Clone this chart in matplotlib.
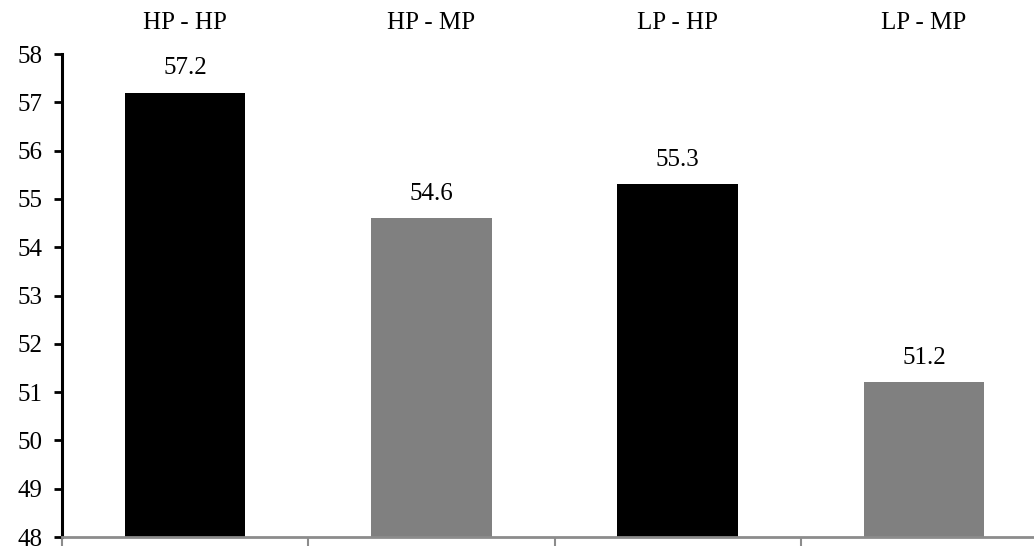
import matplotlib.pyplot as plt
import numpy as np

plt.rcParams['font.family'] = ['Liberation Serif', 'DejaVu Serif']

categories = ['HP - HP', 'HP - MP', 'LP - HP', 'LP - MP']
values = [57.2, 54.6, 55.3, 51.2]
colors = ['#000000', '#808080', '#000000', '#808080']
y_ticks = list(range(48, 59))

fig = plt.figure(figsize=(10.34, 5.46), dpi=100)
ax = fig.add_axes([62 / 1034, 1 - 537 / 546, (1047 - 62) / 1034, (537 - 54) / 546])

x = np.arange(len(categories))
bars = ax.bar(x, values, width=0.49, color=colors, zorder=2)

for xi, v in zip(x, values):
    ax.text(xi, v + 0.28, f'{v:.1f}', ha='center', va='bottom', fontsize=18)

# category names along the top
for xi, c in zip(x, categories):
    ax.text(xi, 1.065, c, transform=ax.get_xaxis_transform(),
            ha='center', va='center', fontsize=18)

ax.set_xlim(-0.5, 3.5)
ax.set_ylim(48, 58)
ax.set_yticks(y_ticks)
ax.tick_params(axis='y', labelsize=18, width=2, length=6, color='black', pad=8)

ax.set_xticks(np.arange(-0.5, 4.0, 1.0))
ax.set_xticklabels([])
ax.tick_params(axis='x', width=1.5, length=7, color='#8c8c8c')

ax.spines['top'].set_visible(False)
ax.spines['right'].set_visible(False)
ax.spines['left'].set_linewidth(2.2)
ax.spines['left'].set_color('black')
ax.spines['bottom'].set_linewidth(2)
ax.spines['bottom'].set_color('#8c8c8c')

fig.savefig('out.png', dpi=100)
